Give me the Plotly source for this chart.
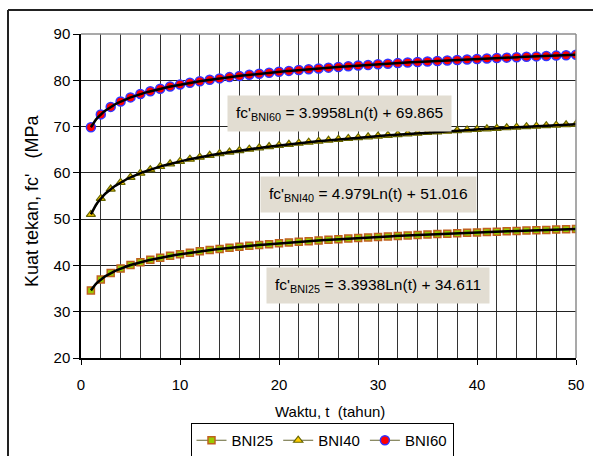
import numpy as np
import plotly.graph_objects as go

t = list(range(1, 51))
bni25 = [34.61, 36.96, 38.34, 39.32, 40.07, 40.69, 41.22, 41.67, 42.07, 42.43,
         42.75, 43.04, 43.32, 43.57, 43.80, 44.02, 44.23, 44.42, 44.60, 44.78,
         44.94, 45.10, 45.25, 45.40, 45.54, 45.67, 45.80, 45.92, 46.04, 46.15,
         46.27, 46.37, 46.48, 46.58, 46.68, 46.77, 46.87, 46.96, 47.04, 47.13,
         47.21, 47.30, 47.38, 47.45, 47.53, 47.60, 47.68, 47.75, 47.82, 47.89]
bni40 = [51.02, 54.47, 56.49, 57.92, 59.03, 59.94, 60.70, 61.37, 61.96, 62.48,
         62.96, 63.39, 63.79, 64.16, 64.50, 64.82, 65.12, 65.41, 65.68, 65.93,
         66.17, 66.41, 66.63, 66.84, 67.04, 67.24, 67.43, 67.61, 67.78, 67.95,
         68.11, 68.27, 68.43, 68.57, 68.72, 68.86, 68.99, 69.13, 69.26, 69.38,
         69.51, 69.63, 69.74, 69.86, 69.97, 70.08, 70.19, 70.29, 70.39, 70.49]
bni60 = [69.87, 72.63, 74.25, 75.40, 76.30, 77.02, 77.64, 78.17, 78.64, 79.07,
         79.45, 79.79, 80.11, 80.41, 80.69, 80.94, 81.19, 81.41, 81.63, 81.84,
         82.03, 82.22, 82.39, 82.56, 82.73, 82.88, 83.03, 83.18, 83.32, 83.46,
         83.59, 83.71, 83.84, 83.96, 84.07, 84.18, 84.29, 84.40, 84.50, 84.61,
         84.70, 84.80, 84.89, 84.99, 85.08, 85.16, 85.25, 85.33, 85.42, 85.50]

series_names = ["BNI25", "BNI40", "BNI60"]
eq_labels = [
    "fc'<sub>BNI25</sub> = 3.3938Ln(t) + 34.611",
    "fc'<sub>BNI40</sub> = 4.979Ln(t) + 51.016",
    "fc'<sub>BNI60</sub> = 3.9958Ln(t) + 69.865",
]
eq_pos = [(29.95, 35.56), (29.09, 55.32), (26.16, 72.82)]

FONT = "Liberation Sans, Arial, sans-serif"

fig = go.Figure()

styles = [
    dict(symbol="square", size=7, color="#99cc00", line=dict(color="#c0601f", width=1.5)),
    dict(symbol="triangle-up", size=8, color="#ffcc00", line=dict(color="#666600", width=1.2)),
    dict(symbol="circle", size=9, color="#ff0000", line=dict(color="#3333ff", width=1.5)),
]
data = [bni25, bni40, bni60]

for name, y, mk in zip(series_names, data, styles):
    fig.add_trace(go.Scatter(x=t, y=y, mode="lines+markers", name=name,
                             line=dict(color="#666633", width=1), marker=mk))

tt = np.array(t, dtype=float)
tfine = np.linspace(1, 50, 300)
for y in data:
    a, b = np.polyfit(np.log(tt), np.array(y), 1)
    fig.add_trace(go.Scatter(x=tfine, y=a * np.log(tfine) + b, mode="lines",
                             line=dict(color="black", width=2.5),
                             showlegend=False, hoverinfo="skip"))

W, H = 593, 456
L, R, T, B = 81, 17, 34, 98
pw, ph = W - L - R, H - T - B

def px(xp):
    return (xp - L) / pw

def py(yp):
    return (H - B - yp) / ph

annotations = []
for txt, (xa, ya) in zip(eq_labels, eq_pos):
    annotations.append(dict(x=xa, y=ya, xref="x", yref="y", text=txt, showarrow=False,
                            font=dict(family=FONT, size=15.5, color="black"),
                            bgcolor="#e2ddd2", borderpad=8, xanchor="center", yanchor="middle"))
annotations.append(dict(x=px(32), y=py(201), xref="paper", yref="paper",
                        text="Kuat tekan, fc'   (MPa", textangle=-90, showarrow=False,
                        font=dict(family=FONT, size=18, color="black"),
                        xanchor="center", yanchor="middle"))
annotations.append(dict(x=px(330), y=py(411), xref="paper", yref="paper",
                        text="Waktu, t  (tahun)", showarrow=False,
                        font=dict(family=FONT, size=15, color="black"),
                        xanchor="center", yanchor="middle"))

shapes = [
    dict(type="line", xref="paper", yref="paper", x0=0, x1=1, y0=1, y1=1,
         line=dict(color="#8c8c8c", width=1.5)),
    dict(type="line", xref="paper", yref="paper", x0=1, x1=1, y0=0, y1=1,
         line=dict(color="#8c8c8c", width=1.5)),
    dict(type="line", xref="paper", yref="paper", x0=px(8), x1=px(600), y0=py(10), y1=py(10),
         line=dict(color="#222222", width=2)),
    dict(type="line", xref="paper", yref="paper", x0=px(8), x1=px(8), y0=py(10), y1=py(470),
         line=dict(color="#222222", width=2)),
]

fig.update_layout(
    width=W, height=H,
    margin=dict(l=L, r=R, t=T, b=B, autoexpand=False),
    paper_bgcolor="white", plot_bgcolor="white",
    font=dict(family=FONT, size=15, color="black"),
    xaxis=dict(range=[0, 50], dtick=10, tick0=0, showgrid=True, gridcolor="#333333", gridwidth=1,
               minor=dict(dtick=2, showgrid=True, gridcolor="#333333", gridwidth=1),
               showline=True, linecolor="black", linewidth=1.5,
               ticks="outside", ticklen=5, tickcolor="black", zeroline=False,
               ticklabelstandoff=7,
               tickfont=dict(family=FONT, size=15, color="black")),
    yaxis=dict(range=[20, 90], dtick=10, showgrid=True, gridcolor="#222222", gridwidth=1,
               showline=True, linecolor="black", linewidth=1.5,
               ticks="outside", ticklen=6, tickcolor="black", zeroline=False,
               tickfont=dict(family=FONT, size=15, color="black")),
    legend=dict(orientation="h", x=px(322), xanchor="center", y=py(423), yanchor="top",
                bordercolor="black", borderwidth=1, bgcolor="white",
                font=dict(family=FONT, size=15, color="black"),
                itemwidth=30, tracegroupgap=0),
    annotations=annotations,
    shapes=shapes,
    showlegend=True,
)

fig.write_html("out.html")
